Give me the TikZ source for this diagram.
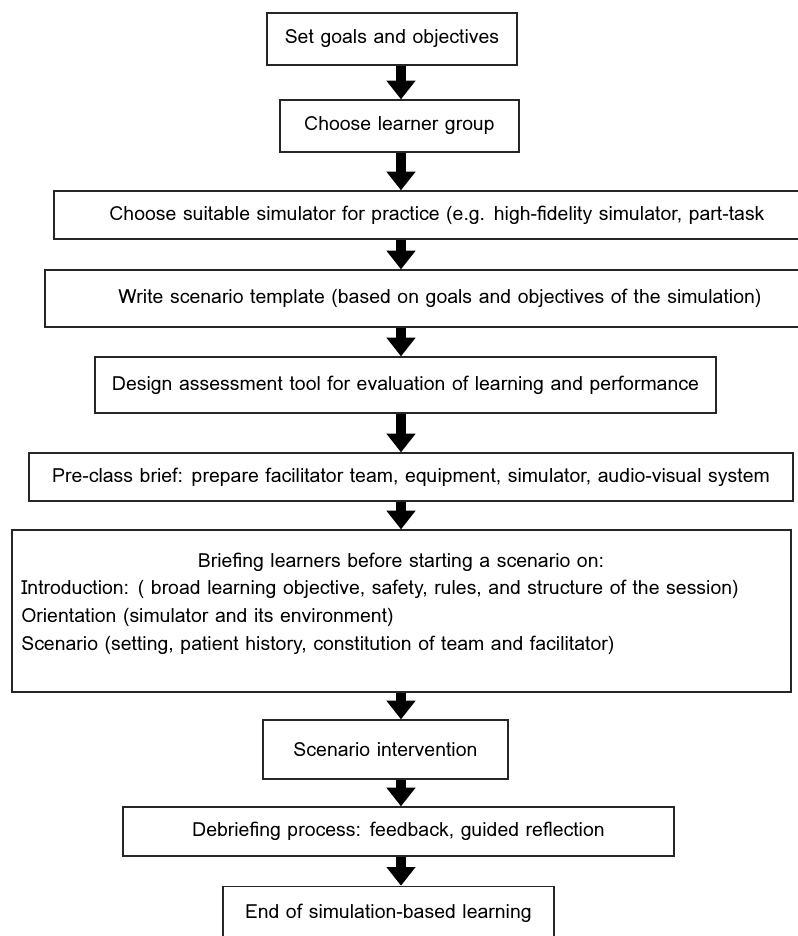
\documentclass[tikz,border=0pt]{standalone}
\usepackage{fontspec}
\setmainfont{Loma}
\usetikzlibrary{arrows.meta}

\begin{document}
\begin{tikzpicture}[x=0.75pt,y=-0.75pt,
    box/.style={draw=black!85,line width=1pt,inner sep=0pt,font=\fontsize{14.6}{17}\selectfont},
    bigarrow/.style={line width=7.5pt,-{Triangle[width=21pt,length=14pt]}},
    line/.style={inner sep=0pt,font=\fontsize{14.6}{17}\selectfont}]
    \useasboundingbox (0,0) rectangle (798,936);
    \clip (0,0) rectangle (798,936);
    \coordinate (ax) at (401,0);

    \node (B1) at (392,39) [box,minimum width=187.5pt,minimum height=39pt]{Set goals and objectives};
    \node (B2) at (399.5,126) [box,minimum width=179.25pt,minimum height=39pt]{Choose learner group};
    \node (B3) at (437,215) [box,minimum width=574.5pt,minimum height=36pt]{Choose suitable simulator for practice (e.g. high-fidelity simulator, part-task};
    \node (B4) at (440,298.5) [box,minimum width=592.5pt,minimum height=42.75pt]{Write scenario template (based on goals and objectives of the simulation)};
    \node (B5) at (405.5,385) [box,minimum width=465.75pt,minimum height=42pt]{Design assessment tool for evaluation of learning and performance};
    \node (B6) at (411,477) [box,minimum width=573pt,minimum height=36pt]{Pre-class brief: prepare facilitator team, equipment, simulator, audio-visual system};

    \node (B7) at (401.5,611) [box,minimum width=584.25pt,minimum height=121.5pt]{};
    \node (B7h) at (401,562) [line]{Briefing learners before starting a scenario on:};
    \node (B7a) at (21,589) [line,anchor=west]{Introduction: ( broad learning objective, safety, rules, and structure of the session)};
    \node (B7b) at (21,617) [line,anchor=west]{Orientation (simulator and its environment)};
    \node (B7c) at (21,645) [line,anchor=west]{Scenario (setting, patient history, constitution of team and facilitator)};

    \node (B8) at (385.5,749.5) [box,minimum width=183.75pt,minimum height=44.25pt]{Scenario intervention};
    \node (B9) at (398.5,831.5) [box,minimum width=413.25pt,minimum height=36.75pt]{Debriefing process: feedback, guided reflection};
    \node (B10) at (388.5,913) [box,minimum width=248.25pt,minimum height=40pt]{End of simulation-based learning};

    \draw [bigarrow] (B1.south -| ax) to (B2.north -| ax);
    \draw [bigarrow] (B2.south -| ax) to (B3.north -| ax);
    \draw [bigarrow] (B3.south -| ax) to (B4.north -| ax);
    \draw [bigarrow] (B4.south -| ax) to (B5.north -| ax);
    \draw [bigarrow] (B5.south -| ax) to (B6.north -| ax);
    \draw [bigarrow] (B6.south -| ax) to (B7.north -| ax);
    \draw [bigarrow] (B7.south -| ax) to (B8.north -| ax);
    \draw [bigarrow] (B8.south -| ax) to (B9.north -| ax);
    \draw [bigarrow] (B9.south -| ax) to (B10.north -| ax);
\end{tikzpicture}
\end{document}
